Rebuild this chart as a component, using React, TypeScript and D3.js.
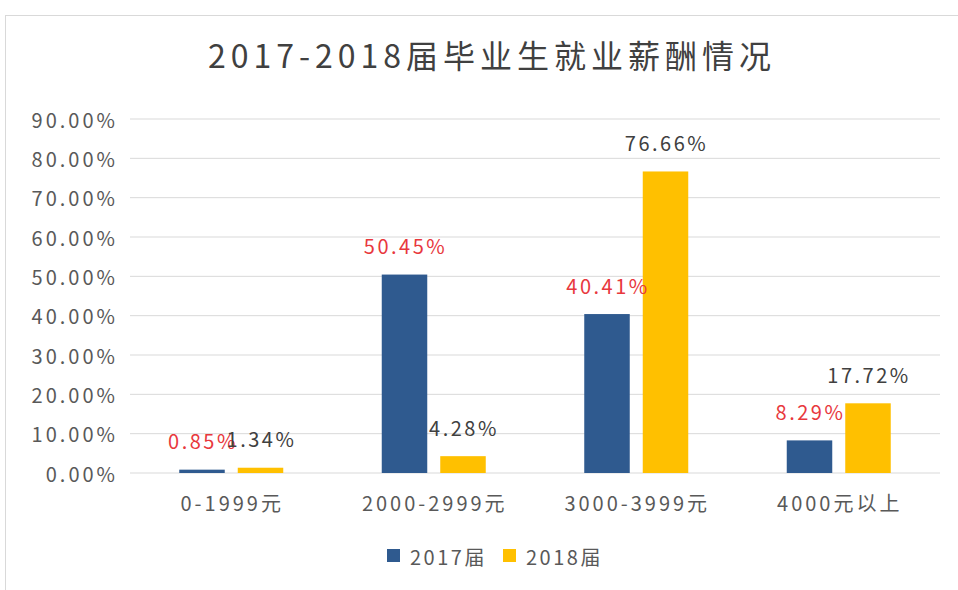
import React from "react";
import * as d3 from "d3";

const categories = ["0-1999元", "2000-2999元", "3000-3999元", "4000元以上"];
const seriesNames = ["2017届", "2018届"];
const values2017 = [0.0085, 0.5045, 0.4041, 0.0829];
const values2018 = [0.0134, 0.0428, 0.7666, 0.1772];
const yTicks = [0, 0.1, 0.2, 0.3, 0.4, 0.5, 0.6, 0.7, 0.8, 0.9];
const title = "2017-2018届毕业生就业薪酬情况";

const colors = ["#2F5A8F", "#FFC000"];
const labelColors = ["#E8383D", "#404040"];
const FONT = "'Noto Sans CJK SC', 'Noto Sans', sans-serif";

export default function App() {
  const W = 958, H = 590;
  const left = 130, right = 940, top = 119, bottom = 473;
  const x = d3.scaleBand<string>().domain(categories).range([left, right]).padding(0);
  const bw = x.bandwidth();
  const groupW = 104;
  const xs = d3
    .scaleBand<string>()
    .domain(seriesNames)
    .range([bw / 2 - groupW / 2, bw / 2 + groupW / 2])
    .paddingInner(13 / 58.5)
    .paddingOuter(0);
  const y = d3.scaleLinear().domain([0, 0.9]).range([bottom, top]);
  const fmt = (v: number) => (v * 100).toFixed(2) + "%";
  const series = [values2017, values2018];

  return (
    <svg width={W} height={H} style={{ position: "absolute", left: 0, top: 0, background: "#fff" }} fontFamily={FONT}>
      <rect x={0} y={0} width={W} height={H} fill="#fff" />
      <rect x={5.5} y={15.5} width={W + 10} height={H + 10} fill="#fff" stroke="#d9d9d9" />
      <text x={492} y={54} textAnchor="middle" dominantBaseline="central" fontSize={32} letterSpacing={5} fill="#404040">
        {title}
      </text>
      {yTicks.map((t) => (
        <g key={t}>
          <line x1={left} x2={right} y1={y(t)} y2={y(t)} stroke="#d9d9d9" strokeWidth={1} />
          <text x={118} y={y(t)} textAnchor="end" dominantBaseline="central" fontSize={20} letterSpacing={3} fill="#595959">
            {fmt(t)}
          </text>
        </g>
      ))}
      {categories.map((c, i) => (
        <g key={c} transform={`translate(${x(c)},0)`}>
          {series.map((vals, si) => {
            const bx = xs(seriesNames[si])!;
            const v = vals[i];
            return (
              <rect key={si} x={bx} y={y(v)} width={xs.bandwidth()} height={bottom - y(v)} fill={colors[si]} />
            );
          })}
          <text x={bw / 2 + 1} y={502} textAnchor="middle" dominantBaseline="central" fontSize={20} letterSpacing={3} fill="#595959">
            {c}
          </text>
        </g>
      ))}
      {categories.map((c, i) => (
        <g key={c + "l"} transform={`translate(${x(c)},0)`}>
          {series.map((vals, si) => {
            const bx = xs(seriesNames[si])!;
            const v = vals[i];
            return (
              <text
                key={si}
                x={bx + xs.bandwidth() / 2 + 1}
                y={y(v) - 29}
                textAnchor="middle"
                dominantBaseline="central"
                fontSize={20}
                letterSpacing={2.5}
                fill={labelColors[si]}
              >
                {fmt(v)}
              </text>
            );
          })}
        </g>
      ))}
      {seriesNames.map((s, si) => {
        const lx = si === 0 ? 387 : 503;
        return (
          <g key={s}>
            <rect x={lx} y={549} width={13} height={13} fill={colors[si]} />
            <text x={lx + 23} y={556} dominantBaseline="central" fontSize={20} letterSpacing={2.5} fill="#595959">
              {s}
            </text>
          </g>
        );
      })}
    </svg>
  );
}
